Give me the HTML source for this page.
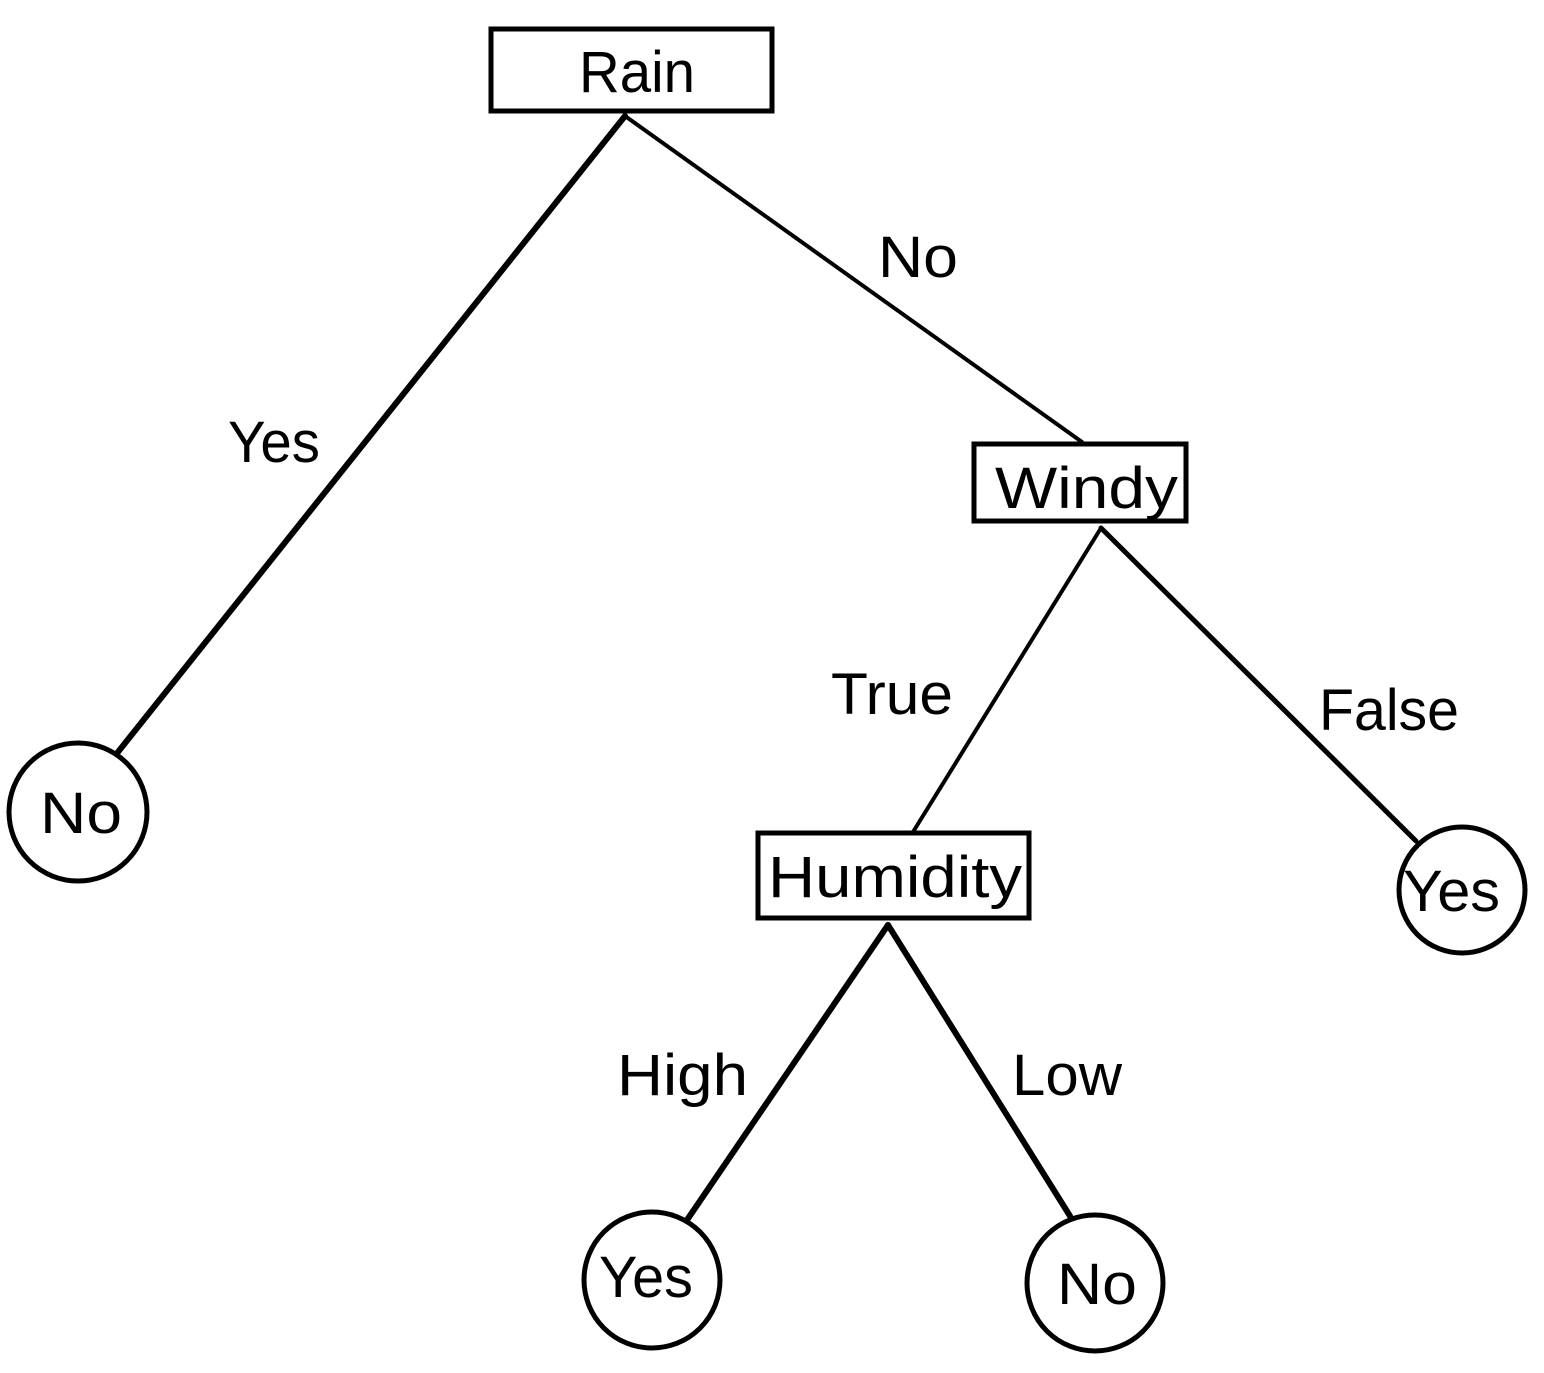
<!DOCTYPE html>
<html><head><meta charset="utf-8"><style>html,body{margin:0;padding:0;background:#fff}svg{display:block}</style></head>
<body>
<svg width="1544" height="1373" viewBox="0 0 1544 1373" xmlns="http://www.w3.org/2000/svg" font-family="Liberation Sans, sans-serif" font-size="58" fill="#000">
<g stroke="#000" stroke-linecap="round" fill="none">
<line x1="625" y1="116" x2="118" y2="752" stroke-width="6"/>
<line x1="625" y1="116" x2="1082" y2="442" stroke-width="4"/>
<line x1="1101" y1="528" x2="913" y2="832" stroke-width="4"/>
<line x1="1101" y1="528" x2="1416" y2="841" stroke-width="5"/>
<line x1="888" y1="925" x2="687" y2="1220" stroke-width="6"/>
<line x1="888" y1="925" x2="1070" y2="1216" stroke-width="6"/>
<rect x="491" y="29" width="281" height="82" stroke-width="5"/>
<rect x="974" y="444" width="212" height="77" stroke-width="5"/>
<rect x="758" y="833" width="271" height="85" stroke-width="5"/>
<circle cx="78" cy="812" r="69" stroke-width="5"/>
<circle cx="1462" cy="890" r="63" stroke-width="5"/>
<circle cx="652" cy="1280" r="68" stroke-width="5"/>
<circle cx="1095" cy="1283" r="68" stroke-width="5"/>
</g>
<text x="579" y="92" textLength="116" lengthAdjust="spacingAndGlyphs">Rain</text>
<text x="878" y="277" textLength="80" lengthAdjust="spacingAndGlyphs">No</text>
<text x="228" y="462" textLength="92" lengthAdjust="spacingAndGlyphs">Yes</text>
<text x="40" y="833" textLength="82" lengthAdjust="spacingAndGlyphs">No</text>
<text x="995" y="508" textLength="183" lengthAdjust="spacingAndGlyphs">Windy</text>
<text x="831" y="714" textLength="122" lengthAdjust="spacingAndGlyphs">True</text>
<text x="1319" y="730" textLength="140" lengthAdjust="spacingAndGlyphs">False</text>
<text x="768" y="897" textLength="254" lengthAdjust="spacingAndGlyphs">Humidity</text>
<text x="1403" y="911" textLength="97" lengthAdjust="spacingAndGlyphs">Yes</text>
<text x="617" y="1095" textLength="131" lengthAdjust="spacingAndGlyphs">High</text>
<text x="1012" y="1095" textLength="110" lengthAdjust="spacingAndGlyphs">Low</text>
<text x="599" y="1297" textLength="94" lengthAdjust="spacingAndGlyphs">Yes</text>
<text x="1057" y="1304" textLength="80" lengthAdjust="spacingAndGlyphs">No</text>
</svg>
</body></html>
